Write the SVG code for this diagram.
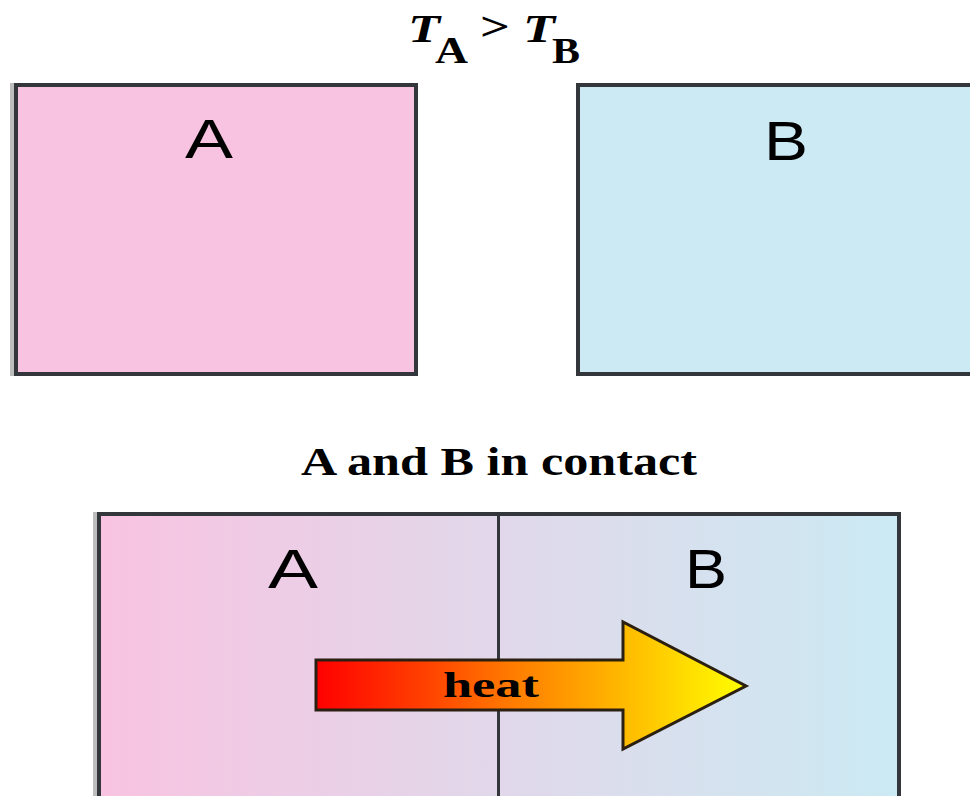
<svg xmlns="http://www.w3.org/2000/svg" width="970" height="796" viewBox="0 0 970 796">
<defs>
<linearGradient id="contact" gradientUnits="userSpaceOnUse" x1="99" y1="0" x2="899" y2="0">
<stop offset="0" stop-color="#f8c3e1"/>
<stop offset="0.5" stop-color="#e1d8ea"/>
<stop offset="1" stop-color="#cbeaf3"/>
</linearGradient>
<linearGradient id="heat" gradientUnits="userSpaceOnUse" x1="316" y1="0" x2="747" y2="0">
<stop offset="0" stop-color="#ff0000"/>
<stop offset="0.25" stop-color="#ff4000"/>
<stop offset="0.45" stop-color="#ff7a00"/>
<stop offset="0.72" stop-color="#ffbb00"/>
<stop offset="1" stop-color="#ffff00"/>
</linearGradient>
<style>
.box{stroke:#33363a;stroke-width:4}
.shadow{fill:#bdbdbd}
.lbl{font-family:"Liberation Sans",Arial,sans-serif;font-size:56px;fill:#000}
.serif{font-family:"Liberation Serif","Times New Roman",serif;font-weight:bold;fill:#000}
</style>
</defs>
<rect width="970" height="796" fill="#ffffff"/>

<g id="title">
<text class="serif" x="408" y="42" font-size="39" font-style="italic" textLength="32" lengthAdjust="spacingAndGlyphs">T</text>
<text class="serif" x="435" y="63" font-size="37" textLength="33" lengthAdjust="spacingAndGlyphs">A</text>
<text class="serif" x="480" y="40" font-size="39" textLength="30" lengthAdjust="spacingAndGlyphs">&gt;</text>
<text class="serif" x="523" y="42" font-size="39" font-style="italic" textLength="32" lengthAdjust="spacingAndGlyphs">T</text>
<text class="serif" x="552" y="63" font-size="35" textLength="28" lengthAdjust="spacingAndGlyphs">B</text>
</g>

<g id="nodeA">
<rect class="shadow" x="10" y="83" width="4" height="293"/>
<rect class="box" x="16" y="85" width="400" height="289" fill="#f8c3e1"/>
<text class="lbl" x="185" y="158" textLength="48" lengthAdjust="spacingAndGlyphs">A</text>
</g>

<g id="nodeB">
<rect class="box" x="578" y="85" width="500" height="289" fill="#cbeaf3"/>
<text class="lbl" x="764" y="160" textLength="44" lengthAdjust="spacingAndGlyphs">B</text>
</g>

<g id="caption">
<text class="serif" x="301" y="475" font-size="40" textLength="396" lengthAdjust="spacingAndGlyphs">A and B in contact</text>
</g>

<g id="contact-box">
<rect class="shadow" x="93" y="512" width="4" height="284"/>
<rect class="box" x="99" y="514" width="800" height="400" fill="url(#contact)"/>
<text class="lbl" x="268" y="588" textLength="50" lengthAdjust="spacingAndGlyphs">A</text>
<text class="lbl" x="685" y="588" textLength="42" lengthAdjust="spacingAndGlyphs">B</text>
</g>

<g id="connectors">
<line x1="498.5" y1="514" x2="498.5" y2="796" stroke="#33363a" stroke-width="3"/>
<polygon points="316,660 623,660 623,622 746,686 623,749 623,710 316,710" fill="url(#heat)" stroke="#2a1f10" stroke-width="3" stroke-linejoin="miter"/>
<text class="serif" x="443" y="697" font-size="36" textLength="96" lengthAdjust="spacingAndGlyphs">heat</text>
</g>
</svg>
